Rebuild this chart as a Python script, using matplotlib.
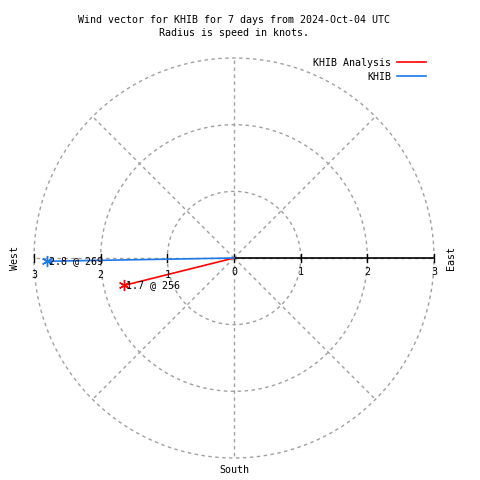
import numpy as np
import matplotlib
matplotlib.use("Agg")
import matplotlib.pyplot as plt

# Data
series_names = ["KHIB Analysis", "KHIB"]
speeds = [1.7, 2.8]          # knots
directions = [256, 269]      # degrees (meteorological)
colors = ["#ff0000", "#1a78e8"]
ring_radii = [1, 2, 3]
spoke_angles = [0, 45, 90, 135, 180, 225, 270, 315]
tick_values = [-3, -2, -1, 0, 1, 2, 3]
title_lines = ["Wind vector for KHIB for 7 days from 2024-Oct-04 UTC",
               "Radius is speed in knots."]

FONT = "DejaVu Sans Mono"
FS = 7.2

fig = plt.figure(figsize=(4.8, 4.8), dpi=100)
ax = fig.add_axes([0, 0, 1, 1])
scale = 400 / 6.0  # px per knot
cx, cy = 234, 258
ax.set_xlim(-cx / scale, (480 - cx) / scale)
ax.set_ylim(-(480 - cy) / scale, cy / scale)
ax.set_aspect("equal")
ax.axis("off")

rmax = max(ring_radii)
th = np.linspace(0, 2 * np.pi, 400)
for r in ring_radii:
    ax.plot(r * np.cos(th), r * np.sin(th), color="#a0a0a0", lw=1,
            ls=(0, (2.5, 2.5)), zorder=1)
for a in spoke_angles:
    ar = np.deg2rad(a)
    ax.plot([0, rmax * np.cos(ar)], [0, rmax * np.sin(ar)], color="#a0a0a0",
            lw=1, ls=(0, (2.5, 2.5)), zorder=1)

# axis line (positive side) and ticks
ax.plot([0, max(tick_values)], [0, 0], color="black", lw=1.2, zorder=2)
tick_h = 4 / scale
for t in tick_values:
    ax.plot([t, t], [-tick_h, tick_h], color="black", lw=1, zorder=2)
    dy = 17 if t < 0 else 14
    ax.text(t, -dy / scale, str(abs(t)), ha="center", va="center",
            family=FONT, fontsize=FS, zorder=4)

# vectors
handles = []
for name, s, d, c in zip(series_names, speeds, directions, colors):
    x = s * np.sin(np.deg2rad(d))
    y = s * np.cos(np.deg2rad(d))
    h, = ax.plot([0, x], [0, y], color=c, lw=1.2, zorder=3, label=name)
    ax.plot([x], [y], marker=(6, 2, 0), color=c, ms=8, mew=1, zorder=3)
    ax.text(x + 2 / scale, y, f"{s} @ {d}", ha="left", va="center",
            family=FONT, fontsize=FS, zorder=4)
    handles.append(h)

leg = ax.legend(handles=handles, loc="upper right", bbox_to_anchor=(0.898, 0.89),
                bbox_transform=fig.transFigure, frameon=False, markerfirst=False,
                prop={"family": FONT, "size": FS}, handlelength=2.9,
                labelspacing=0.4, handletextpad=0.6, borderpad=0)

fig.text(cx / 480, 1 - 20 / 480, title_lines[0], ha="center", va="center",
         family=FONT, fontsize=FS)
fig.text(cx / 480, 1 - 33 / 480, title_lines[1], ha="center", va="center",
         family=FONT, fontsize=FS)
fig.text(15 / 480, 1 - cy / 480, "West", rotation=90, ha="center", va="center",
         family=FONT, fontsize=FS)
fig.text(451 / 480, 1 - cy / 480, "East", rotation=90, ha="center", va="center",
         family=FONT, fontsize=FS)
fig.text(cx / 480, 1 - 470 / 480, "South", ha="center", va="center",
         family=FONT, fontsize=FS)

fig.savefig("out.png", dpi=100, facecolor="white")
